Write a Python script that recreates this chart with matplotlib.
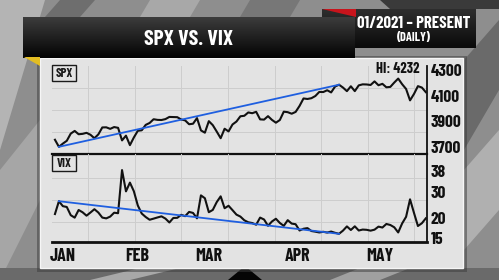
import matplotlib
matplotlib.use("Agg")
import matplotlib.pyplot as plt
import matplotlib.transforms as mtransforms
from matplotlib.patches import Rectangle, Polygon
import numpy as np

# daily closes, 12/31/2020 .. 05/18/2021 (one value per trading day)
spx = [3756, 3701, 3726, 3748, 3804, 3825, 3799, 3802, 3810, 3795, 3768, 3798, 3852, 3853, 3841, 3855, 3849, 3751, 3788, 3714,
       3774, 3826, 3830, 3872, 3887, 3916, 3911, 3910, 3917, 3934, 3933, 3932, 3914, 3907, 3877, 3881, 3925, 3829, 3811,
       3901, 3870, 3820, 3768, 3842, 3821, 3875, 3898, 3939, 3943, 3969, 3963, 3974, 3915, 3913, 3940, 3911, 3889, 3910, 3975, 3971, 3959, 3973,
       4020, 4078, 4074, 4080, 4097, 4129, 4128, 4142, 4125, 4171, 4185, 4163, 4135, 4173, 4135, 4180, 4188, 4187, 4183, 4211, 4181,
       4192, 4165, 4168, 4202, 4233, 4189, 4152, 4063, 4113, 4174, 4163, 4127]
vix = [22.75, 26.97, 25.34, 25.07, 22.37, 21.56, 24.08, 23.33, 22.21, 23.25, 24.34, 23.24, 21.58, 21.32, 21.91, 23.19, 23.02, 37.21, 30.21, 33.09,
       30.24, 25.56, 22.91, 21.77, 20.87, 21.24, 21.63, 21.99, 21.25, 19.97, 21.46, 21.50, 22.49, 22.05, 23.45, 23.11, 21.34, 28.89, 27.95,
       23.35, 24.10, 26.67, 28.57, 24.66, 25.47, 24.03, 22.56, 21.91, 20.69, 20.03, 19.79, 19.23, 21.58, 20.95, 18.88, 20.30, 21.20, 19.81, 18.86, 20.74, 19.61, 19.40,
       17.33, 17.91, 18.12, 17.16, 16.95, 16.69, 16.91, 16.65, 16.99, 16.57, 16.25, 17.29, 18.68, 17.50, 18.71, 17.33, 17.64, 17.56, 17.28, 17.61, 18.61,
       18.31, 19.48, 19.15, 18.39, 16.69, 19.66, 21.84, 27.59, 23.13, 18.81, 19.72, 21.34]

# trend lines drawn between these two trading days (jan 4 -> apr 16)
trend_days = [1, 72]

month_labels = ["JAN", "FEB", "MAR", "APR", "MAY"]
month_days = [2, 20.8, 39, 61.6, 82.4]

spx_ticks = [3700, 3900, 4100, 4300]
vix_ticks = [15, 20, 30, 38]
spx_high = 4232

plt.rcParams['font.family'] = ['Barlow Condensed', 'DejaVu Sans']
plt.rcParams['font.weight'] = 'bold'

W, H = 499, 280
fig = plt.figure(figsize=(W / 100, H / 100), dpi=100)
fig.patch.set_facecolor('#8e8e8e')

# background / decoration layer in pixel coordinates
bg = fig.add_axes([0, 0, 1, 1])
bg.axis('off')

def poly(points, color, z=0):
    bg.add_patch(Polygon(points, closed=True, facecolor=color, edgecolor='none', zorder=z))

def gradientBox(x0, y0, x1, y1, top, bottom, z=2):
    grad = np.linspace(0, 1, 50).reshape(-1, 1)
    c0 = np.array(matplotlib.colors.to_rgb(top))
    c1 = np.array(matplotlib.colors.to_rgb(bottom))
    img = c0 + (c1 - c0) * grad[:, :, None]
    bg.imshow(img, extent=(x0, x1, y1, y0), aspect='auto', zorder=z)

# studio background stripes
poly([(0, 0), (499, 0), (499, 280), (0, 280)], '#8e8e8e')
poly([(0, 0), (45, 0), (0, 150)], '#b4b4b4')
poly([(0, 170), (40, 120), (40, 200), (0, 280)], '#a6a6a6')
poly([(60, 0), (95, 0), (80, 17), (45, 17)], '#6e6e6e')
poly([(150, 0), (200, 0), (190, 17), (140, 17)], '#a8a8a8')
poly([(250, 0), (300, 0), (290, 17), (240, 17)], '#777777')
poly([(380, 0), (499, 0), (499, 9), (390, 9)], '#3a3a3a')
poly([(464, 60), (499, 20), (499, 90), (464, 150)], '#6a6a6a')
poly([(464, 170), (499, 130), (499, 210), (464, 250)], '#b0b0b0')
poly([(0, 268), (499, 268), (499, 280), (0, 280)], '#6a6a6a')
poly([(228, 280), (245, 266), (262, 280)], '#050505')
poly([(90, 280), (140, 268), (180, 268), (130, 280)], '#a8a8a8')
poly([(330, 280), (360, 268), (410, 268), (380, 280)], '#a0a0a0')

# main light panel with shadow
bg.add_patch(Rectangle((37, 56), 430, 216, facecolor='#3c3c3c', alpha=0.5, edgecolor='none', zorder=1))
bg.add_patch(Rectangle((40, 58), 423, 210, facecolor='#e3e3e3', edgecolor='#f6f6f6', lw=1, zorder=1))

# right date box with red tip
gradientBox(322, 9, 476, 48, '#2e2e2e', '#0a0a0a', z=2)
poly([(322, 9), (356, 9), (356, 17)], '#c8141c', z=3)

# title banner with yellow fold
gradientBox(23, 17, 355, 58, '#3c3c3c', '#030303', z=4)
poly([(24, 57), (40, 57), (40, 66)], '#e3bd22', z=4)

bg.set_xlim(0, W)
bg.set_ylim(H, 0)

bg.text(189, 39.5, "SPX VS. VIX", color='white', fontsize=15.5, ha='center', va='center', zorder=5)
bg.text(414, 23.5, "01/2021 \u2013 PRESENT", color='white', fontsize=12, ha='center', va='center', zorder=5)
bg.text(414, 38, "(DAILY)", color='white', fontsize=9, ha='center', va='center', zorder=5)

# panel labels in boxes
for label, y0 in [("SPX", 65), ("VIX", 155)]:
    bg.add_patch(Rectangle((52, y0), 24, 16, facecolor='none', edgecolor='#1a1a1a', lw=1, zorder=3))
    bg.text(64, y0 + 8.3, label, color='#1a1a1a', fontsize=9, ha='center', va='center', zorder=3)

# data axes
ax_spx = fig.add_axes([52 / W, 1 - 154 / H, 375 / W, 88 / H])
ax_vix = fig.add_axes([52 / W, 1 - 242 / H, 375 / W, 88 / H])

days = np.arange(len(spx))
grid_days = [8.4, 20.2, 32.0, 43.8, 55.7, 67.5, 79.3, 91.1]

def styleAxes(ax, ticks, ylim, grid_vals, bottom_lw):
    ax.set_facecolor('none')
    ax.set_xlim(-0.75, 94.3)
    ax.set_ylim(*ylim)
    for x in grid_days:
        ax.axvline(x, color='#cdcdcd', lw=0.7, zorder=0)
    for y in grid_vals:
        ax.axhline(y, color='#cdcdcd', lw=0.7, zorder=0)
    for side in ['left', 'top']:
        ax.spines[side].set_visible(False)
    ax.spines['right'].set_color('#111111')
    ax.spines['right'].set_linewidth(1.3)
    ax.spines['bottom'].set_color('#111111')
    ax.spines['bottom'].set_linewidth(bottom_lw)
    ax.yaxis.tick_right()
    ax.set_yticks(ticks)
    ax.tick_params(axis='y', length=0, pad=2.5, labelsize=12.5, labelcolor='#111111')

styleAxes(ax_spx, spx_ticks, (3645, 4331), [3817, 3988, 4160], 1.6)
styleAxes(ax_vix, vix_ticks, (13.55, 42.5), [20.1, 27.4, 34.7], 2.0)

# the broadcast graphic spaces the vix labels a bit unevenly
nudge = {'38': -3, '20': 4}
for lab in ax_vix.get_yticklabels():
    dy = nudge.get(lab.get_text(), 0)
    if dy:
        lab.set_transform(lab.get_transform() + mtransforms.ScaledTranslation(0, dy / 100, fig.dpi_scale_trans))

ax_spx.set_xticks([])
ax_vix.set_xticks(month_days)
ax_vix.set_xticklabels(month_labels)
ax_vix.tick_params(axis='x', length=0, pad=4, labelsize=13, labelcolor='#111111')

ax_spx.plot(days, spx, color='#111111', lw=1.5, zorder=3)
ax_spx.plot(trend_days, [spx[d] for d in trend_days], color='#1f5fe0', lw=1.3, zorder=4)
ax_spx.text(92.3, spx_high + 20, f"HI: {spx_high}", ha='right', va='bottom', fontsize=10.5, color='#111111')

ax_vix.plot(days, vix, color='#111111', lw=1.5, zorder=3)
ax_vix.plot(trend_days, [vix[d] for d in trend_days], color='#1f5fe0', lw=1.3, zorder=4)

plt.savefig("out.png", dpi=100, facecolor=fig.get_facecolor())
